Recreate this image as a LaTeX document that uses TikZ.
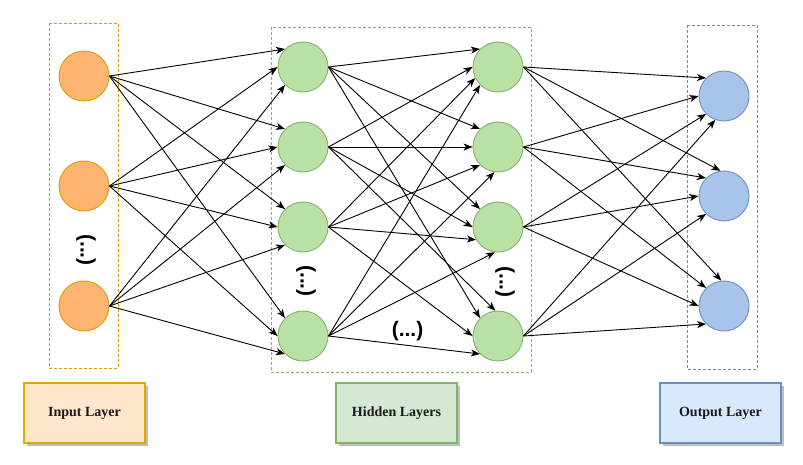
\documentclass[tikz,border=0pt]{standalone}
\usepackage{fontspec}
\setmainfont{Liberation Serif}
\newfontfamily\lblfont{Liberation Sans}
\usetikzlibrary{arrows.meta,shadows}
\definecolor{inF}{HTML}{FFB570}
\definecolor{inD}{HTML}{D79B00}
\definecolor{hidF}{HTML}{B9E0A5}
\definecolor{hidD}{HTML}{82B366}
\definecolor{outF}{HTML}{A9C4EB}
\definecolor{outD}{HTML}{6C8EBF}
\definecolor{inL}{HTML}{FFE6CC}
\definecolor{hidL}{HTML}{D5E8D4}
\definecolor{outL}{HTML}{DAE8FC}
\tikzset{
  neuron/.style={circle, minimum size=50pt, inner sep=0pt, line width=0.9pt},
  inn/.style={neuron, fill=inF, draw=inD},
  hid/.style={neuron, fill=hidF, draw=hidD},
  outn/.style={neuron, fill=outF, draw=outD},
  arr/.style={-{Stealth[length=9pt,width=7pt,inset=2.5pt]}, line width=0.9pt, black},
  grp/.style={dashed, dash pattern=on 3pt off 2pt, line width=0.8pt},
  legend/.style={rectangle, minimum width=121pt, minimum height=60pt, line width=2pt,
     font=\fontsize{14pt}{16pt}\selectfont\bfseries, text=black!90,
     drop shadow={shadow xshift=3pt, shadow yshift=-3pt, fill=black!25, opacity=1}},
  dots/.style={font=\lblfont\fontsize{21pt}{24pt}\selectfont\bfseries, inner sep=0pt}
}
\begin{document}
\begin{tikzpicture}[x=1pt,y=-1pt]
\useasboundingbox (0,0) rectangle (803,464);
% group boxes
\draw[grp, draw=inD] (49,23) rectangle (118,368);
\draw[grp, draw=hidD] (271,27) rectangle (531,372);
\draw[grp, draw=outD] (687,25) rectangle (757,369);
% nodes
\node[inn] (i1) at (84,76) {};
\node[inn] (i2) at (84,186) {};
\node[inn] (i3) at (84,306) {};
\node[hid] (h1) at (303,67) {};
\node[hid] (h2) at (303,147) {};
\node[hid] (h3) at (303,227) {};
\node[hid] (h4) at (303,336) {};
\node[hid] (t1) at (498,67) {};
\node[hid] (t2) at (498,147) {};
\node[hid] (t3) at (498,227) {};
\node[hid] (t4) at (498,336) {};
\node[outn] (o1) at (724,96) {};
\node[outn] (o2) at (724,196) {};
\node[outn] (o3) at (724,306) {};
% ellipsis labels
\node[dots, rotate=-90] (d1) at (86,250) {(...)};
\node[dots, rotate=-90] (d2) at (306,281) {(...)};
\node[dots, rotate=-90] (d3) at (505,282) {(...)};
\node[dots] (d4) at (407.5,331) {(...)};
% input -> hidden 1
\foreach \s/\a in {1/north west, 2/west, 3/south west}
  \foreach \t in {1,...,4}
    \draw[arr] (i\s.east) -- (h\t.\a);
% hidden 1 -> hidden 2
\foreach \s/\t/\a in {1/1/north west, 2/1/west, 3/1/206, 4/1/south west,
                      1/2/north west, 2/2/west, 3/2/south west, 4/2/262,
                      1/3/north west, 2/3/west, 3/3/210, 4/3/263,
                      1/4/north west, 2/4/96, 3/4/west, 4/4/south west}
  \draw[arr] (h\s.east) -- (t\t.\a);
% hidden 2 -> output
\foreach \s/\t/\a in {1/1/north west, 2/1/west, 3/1/south west, 4/1/250,
                      1/2/98, 2/2/north west, 3/2/west, 4/2/south west,
                      1/3/96, 2/3/north west, 3/3/west, 4/3/south west}
  \draw[arr] (t\s.east) -- (o\t.\a);
% legend
\node[legend, fill=inL, draw=inD!85!yellow] (l1) at (84.5,413) {Input Layer};
\node[legend, fill=hidL, draw=hidD] (l2) at (396.5,413) {Hidden Layers};
\node[legend, fill=outL, draw=outD] (l3) at (720.5,413) {Output Layer};
\end{tikzpicture}
\end{document}
